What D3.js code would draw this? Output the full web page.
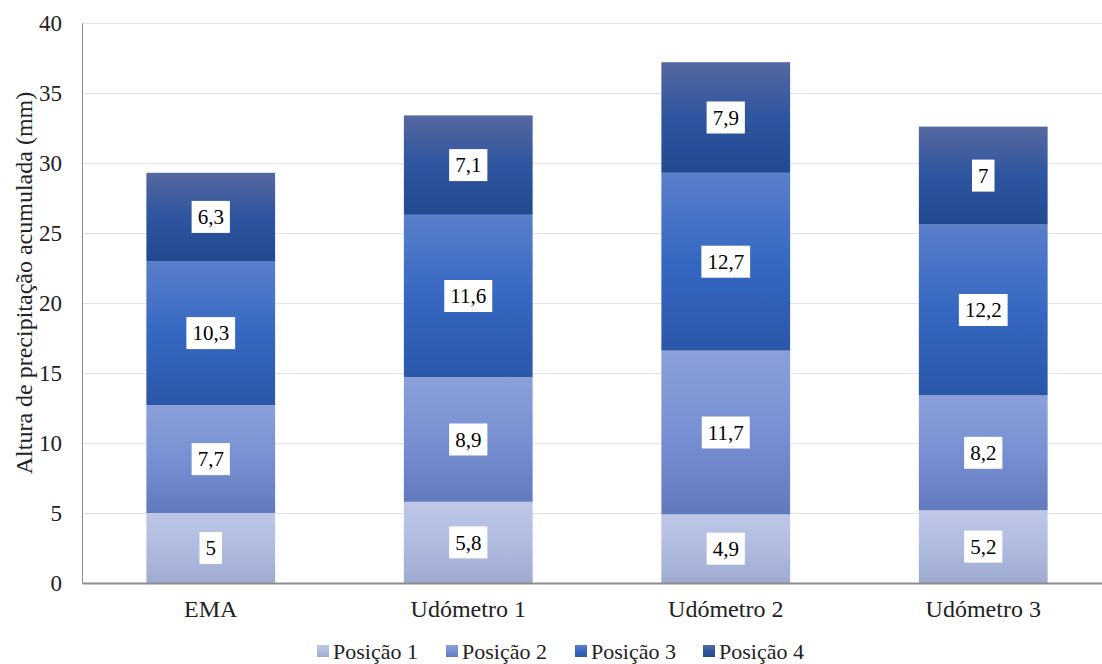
<!DOCTYPE html>
<html>
<head>
<meta charset="utf-8">
<script src="https://cdn.jsdelivr.net/npm/d3@7"></script>
</head>
<body style="margin:0">
<script>
	var categories = ["EMA", "Udómetro 1", "Udómetro 2", "Udómetro 3"],
		seriesNames = ["Posição 1", "Posição 2", "Posição 3", "Posição 4"],
		pos1 = [5, 5.8, 4.9, 5.2],
		pos2 = [7.7, 8.9, 11.7, 8.2],
		pos3 = [10.3, 11.6, 12.7, 12.2],
		pos4 = [6.3, 7.1, 7.9, 7],
		yTicks = [0, 5, 10, 15, 20, 25, 30, 35, 40];

	var width = 1102,
		height = 664,
		margin = { top: 23, left: 82, bottom: 81 },
		plotRight = 1112,
		serif = "'Liberation Serif'",
		// gradient stops per series: top, middle, bottom
		gradients = [
			["#bec7e7", "#b0bbe0", "#9eaad0"],
			["#8ba0da", "#7890d3", "#6379bd"],
			["#5a7fcb", "#3668c2", "#2b57a8"],
			["#5668a0", "#2e559f", "#224a90"]
		];

	var values = [pos1, pos2, pos3, pos4];
	var rows = categories.map(function(c, i) {
		var r = { cat: c };
		seriesNames.forEach(function(s, j) { r[s] = values[j][i]; });
		return r;
	});
	var stacked = d3.stack().keys(seriesNames)(rows);

	var x = d3.scaleBand()
		.domain(categories)
		.range([margin.left, plotRight])
		.paddingInner(0.5)
		.paddingOuter(0.25);

	var y = d3.scaleLinear()
		.domain([0, 40])
		.range([height - margin.bottom, margin.top]);

	var svg = d3.select("body")
		.append("svg")
		.attr("width", width)
		.attr("height", height);

	var defs = svg.append("defs");
	gradients.forEach(function(g, i) {
		var lg = defs.append("linearGradient")
			.attr("id", "grad" + i)
			.attr("x1", 0).attr("y1", 0)
			.attr("x2", 0).attr("y2", 1);
		lg.append("stop").attr("offset", "0%").attr("stop-color", g[0]);
		lg.append("stop").attr("offset", "50%").attr("stop-color", g[1]);
		lg.append("stop").attr("offset", "100%").attr("stop-color", g[2]);
	});

	// gridlines
	svg.append("g")
		.selectAll("line")
		.data(yTicks.filter(function(d) { return d > 0; }))
		.enter()
		.append("line")
		.attr("x1", margin.left)
		.attr("x2", plotRight)
		.attr("y1", function(d) { return Math.round(y(d)) + 0.5; })
		.attr("y2", function(d) { return Math.round(y(d)) + 0.5; })
		.attr("stroke", "#e3e3e8")
		.attr("stroke-width", 1);

	// bars
	var layer = svg.append("g")
		.selectAll("g")
		.data(stacked)
		.enter()
		.append("g")
		.attr("fill", function(d, i) { return "url(#grad" + i + ")"; });

	layer.selectAll("rect")
		.data(function(d) { return d; })
		.enter()
		.append("rect")
		.attr("x", function(d) { return x(d.data.cat); })
		.attr("width", x.bandwidth())
		.attr("y", function(d) { return y(d[1]); })
		.attr("height", function(d) { return y(d[0]) - y(d[1]); });

	// value labels
	var fmt = function(v) { return String(v).replace(".", ","); };
	var labelData = [];
	stacked.forEach(function(s) {
		s.forEach(function(d) {
			labelData.push({ cat: d.data.cat, v: d.data[s.key], mid: (d[0] + d[1]) / 2 });
		});
	});

	var labels = svg.append("g")
		.selectAll("g")
		.data(labelData)
		.enter()
		.append("g")
		.attr("transform", function(d) {
			return "translate(" + (x(d.cat) + x.bandwidth() / 2) + "," + y(d.mid) + ")";
		});

	labels.append("text")
		.attr("text-anchor", "middle")
		.attr("dy", "0.34em")
		.style("font-family", serif)
		.attr("font-size", 21)
		.attr("fill", "#000")
		.text(function(d) { return fmt(d.v); })
		.each(function() {
			var b = this.getBBox();
			d3.select(this.parentNode).insert("rect", "text")
				.attr("x", b.x - 6)
				.attr("y", -16)
				.attr("width", b.width + 12)
				.attr("height", 32)
				.attr("fill", "#fff");
		});

	// axes
	var yAxis = svg.append("g")
		.attr("transform", "translate(" + margin.left + ",0)")
		.call(d3.axisLeft(y).tickValues(yTicks).tickSize(0).tickPadding(20));
	yAxis.attr("font-family", null).attr("font-size", null);
	yAxis.select(".domain").attr("stroke", "#8c8c8c");
	yAxis.selectAll("text")
		.style("font-family", serif)
		.attr("font-size", 23)
		.attr("fill", "#222");

	var xAxis = svg.append("g")
		.attr("transform", "translate(0," + y(0) + ")")
		.call(d3.axisBottom(x).tickSize(0).tickPadding(17));
	xAxis.attr("font-family", null).attr("font-size", null);
	xAxis.select(".domain").attr("stroke", "#8c8c8c").attr("stroke-width", 2);
	xAxis.selectAll("text")
		.style("font-family", serif)
		.attr("font-size", 24)
		.attr("fill", "#222");

	svg.append("text")
		.attr("transform", "translate(24," + ((y(0) + y(40)) / 2 - 20) + ") rotate(-90)")
		.attr("text-anchor", "middle")
		.attr("dy", "0.35em")
		.style("font-family", serif)
		.attr("font-size", 24)
		.attr("fill", "#222")
		.text("Altura de precipitação acumulada (mm)");

	// legend
	var legend = svg.append("g")
		.selectAll("g")
		.data(seriesNames)
		.enter()
		.append("g")
		.attr("transform", function(d, i) {
			var lx = [317, 446, 575, 703][i];
			return "translate(" + lx + ",651)";
		});
	legend.append("rect")
		.attr("x", 0)
		.attr("y", -6)
		.attr("width", 12)
		.attr("height", 12)
		.attr("fill", function(d, i) { return "url(#grad" + i + ")"; });
	legend.append("text")
		.attr("x", 16)
		.attr("dy", "0.35em")
		.style("font-family", serif)
		.attr("font-size", 22)
		.attr("fill", "#222")
		.text(function(d) { return d; });
</script>
</body>
</html>
